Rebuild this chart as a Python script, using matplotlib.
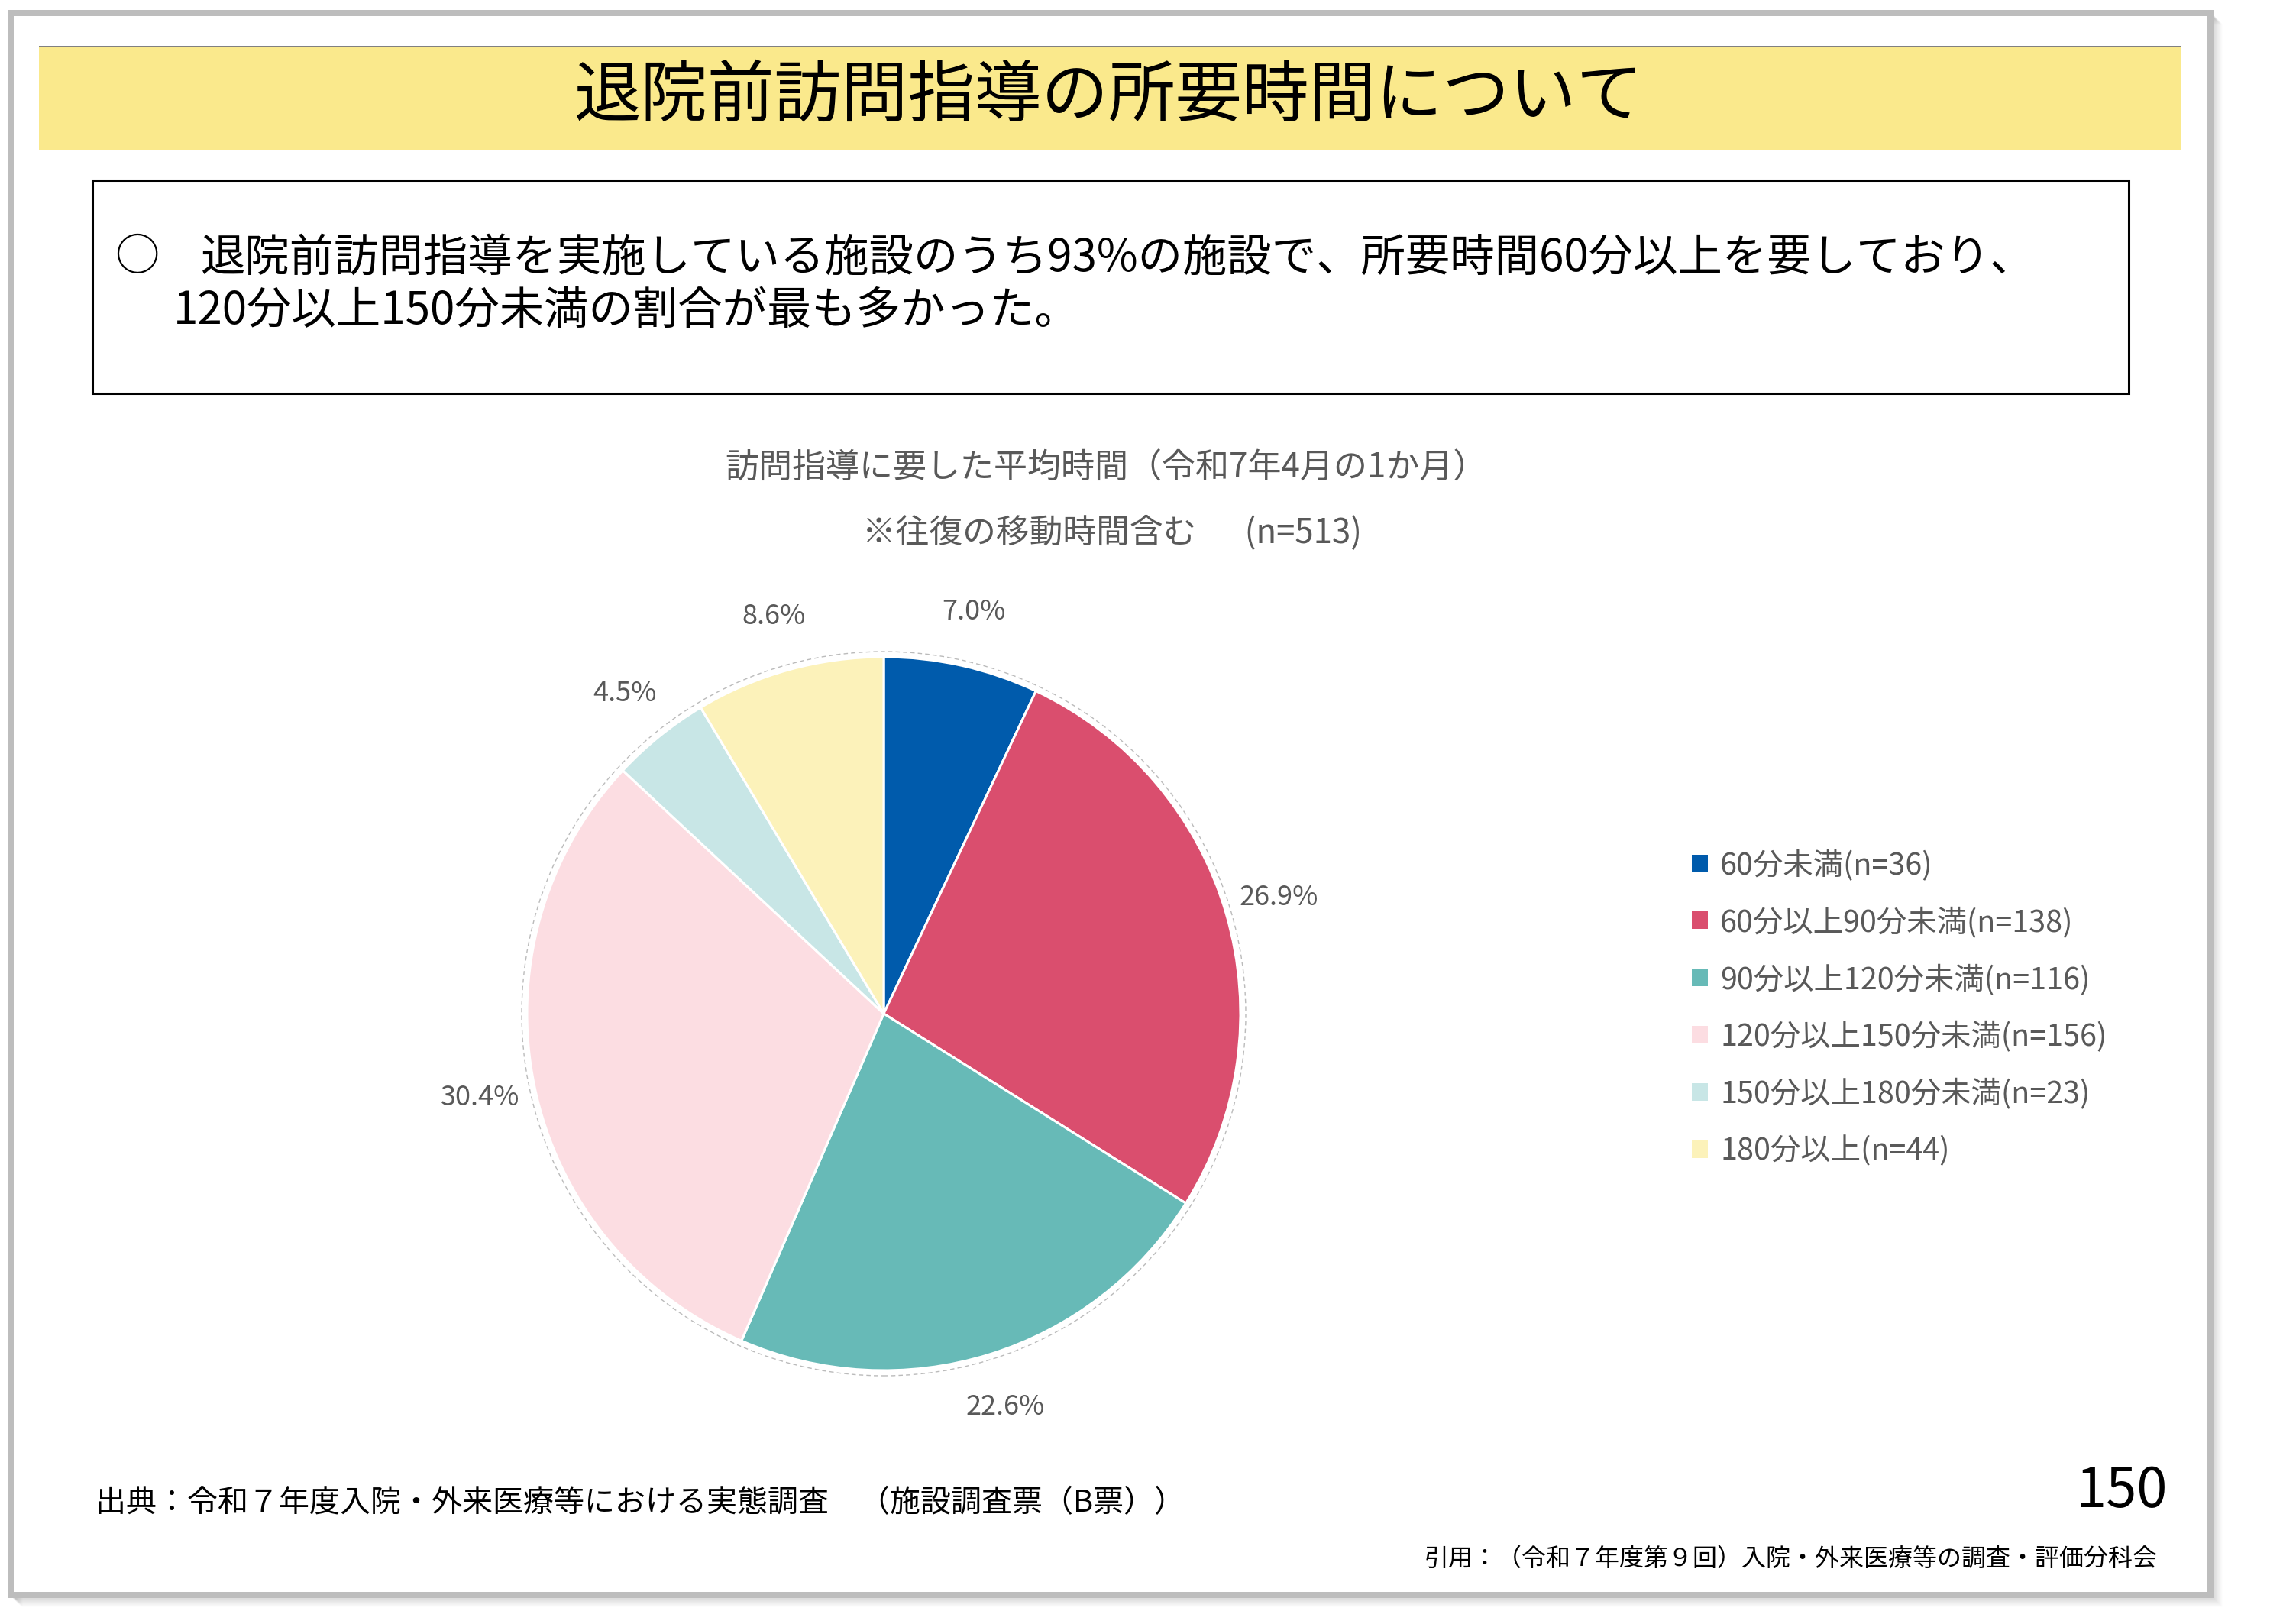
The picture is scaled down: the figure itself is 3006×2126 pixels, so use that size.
import matplotlib
matplotlib.use("Agg")
import matplotlib.pyplot as plt
from matplotlib.patches import Rectangle, Circle, Patch

plt.rcParams['font.family'] = ['Noto Sans CJK JP', 'DejaVu Sans']

# ---- data ----
categories = ["60分未満", "60分以上90分未満", "90分以上120分未満",
              "120分以上150分未満", "150分以上180分未満", "180分以上"]
counts = [36, 138, 116, 156, 23, 44]
colors = ["#005BAC", "#DA4E6E", "#67BAB7", "#FCDDE2", "#C8E6E6", "#FCF2BA"]
legend_labels = [f"{c}(n={n})" for c, n in zip(categories, counts)]

main_title = "退院前訪問指導の所要時間について"
box_line1 = "退院前訪問指導を実施している施設のうち93%の施設で、所要時間60分以上を要しており、"
box_line2 = "120分以上150分未満の割合が最も多かった。"
chart_title = "訪問指導に要した平均時間（令和7年4月の1か月）"
chart_subtitle = "※往復の移動時間含む　  (n=513)"
source_text = "出典：令和７年度入院・外来医療等における実態調査　（施設調査票（B票））"
page_no = "150"
cite_text = "引用：（令和７年度第９回）入院・外来医療等の調査・評価分科会"

W, H = 3006, 2126
DPI = 100
fig = plt.figure(figsize=(W / DPI, H / DPI), dpi=DPI)
fig.patch.set_facecolor("white")

# background axes in pixel coordinates (y downward)
bg = fig.add_axes([0, 0, 1, 1])
bg.set_xlim(0, W)
bg.set_ylim(H, 0)
bg.axis("off")

# frame shadow
for i in range(1, 16):
    bg.add_patch(Rectangle((14 + i, 17 + i), 2880, 2071, fill=False,
                           edgecolor="black", linewidth=1.2,
                           alpha=0.11 * (16 - i) / 15, zorder=1))
# frame
bg.add_patch(Rectangle((14, 17), 2880, 2071, facecolor="white",
                       edgecolor="#BDBDBD", linewidth=8 * 72 / DPI, zorder=2))

# yellow title band
bg.add_patch(Rectangle((51, 60), 2805, 137, facecolor="#FAE98C",
                       edgecolor="none", zorder=3))
bg.plot([51, 2856], [61, 61], color="#808080", linewidth=2 * 72 / DPI, zorder=4,
        solid_capstyle="butt")
bg.text(1452, 127, main_title, ha="center", va="center", fontsize=63,
        color="black", zorder=5)

# summary box
bg.add_patch(Rectangle((121, 236), 2666, 279, facecolor="white",
                       edgecolor="black", linewidth=2.2, zorder=3))
bg.text(150, 338, "○", ha="left", va="center", fontsize=42, color="black", zorder=5)
bg.text(263, 338, box_line1, ha="left", va="center", fontsize=42, color="black", zorder=5)
bg.text(227, 407, box_line2, ha="left", va="center", fontsize=42, color="black", zorder=5)

# chart titles
bg.text(1448, 612, chart_title, ha="center", va="center", fontsize=31.7,
        color="#595959", zorder=5)
bg.text(1456, 697, chart_subtitle, ha="center", va="center", fontsize=31.5,
        color="#595959", zorder=5)

# footer texts
bg.text(125, 1968, source_text, ha="left", va="center", fontsize=28.8,
        color="black", zorder=5)
bg.text(2838, 1953, page_no, ha="right", va="center", fontsize=52,
        color="black", zorder=5)
bg.text(2825, 2041, cite_text, ha="right", va="center", fontsize=23,
        color="black", zorder=5)

# ---- pie ----
cx, cy, R = 1157, 1327, 467
lim = 1.4
side = 2 * R * lim
ax = fig.add_axes([(cx - side / 2) / W, (H - cy - side / 2) / H, side / W, side / H])
ax.set_xlim(-lim, lim)
ax.set_ylim(-lim, lim)
ax.set_aspect("equal")
ax.axis("off")

wedges, texts, autotexts = ax.pie(
    counts, colors=colors, startangle=90, counterclock=False, radius=1.0,
    autopct="%1.1f%%", pctdistance=1.155,
    wedgeprops=dict(edgecolor="white", linewidth=2.2),
    textprops=dict(fontsize=26, color="#595959"))
ax.add_patch(Circle((0, 0), 1.0 + 7 / R, fill=False, edgecolor="#BBBBBB",
                    linewidth=1.0, linestyle=(0, (4, 3)), zorder=0))
ax.set_xlim(-lim, lim)
ax.set_ylim(-lim, lim)

# ---- legend ----
handles = [Patch(facecolor=c, edgecolor="none") for c in colors]
fig.legend(handles, legend_labels, loc="upper left",
           bbox_to_anchor=(2215 / W, 1 - 1112 / H), frameon=False,
           fontsize=28.4, labelcolor="#595959",
           handlelength=0.52, handleheight=0.52, handletextpad=0.42,
           labelspacing=0.86, borderpad=0, borderaxespad=0)

fig.savefig("out.png", dpi=DPI, facecolor="white")
